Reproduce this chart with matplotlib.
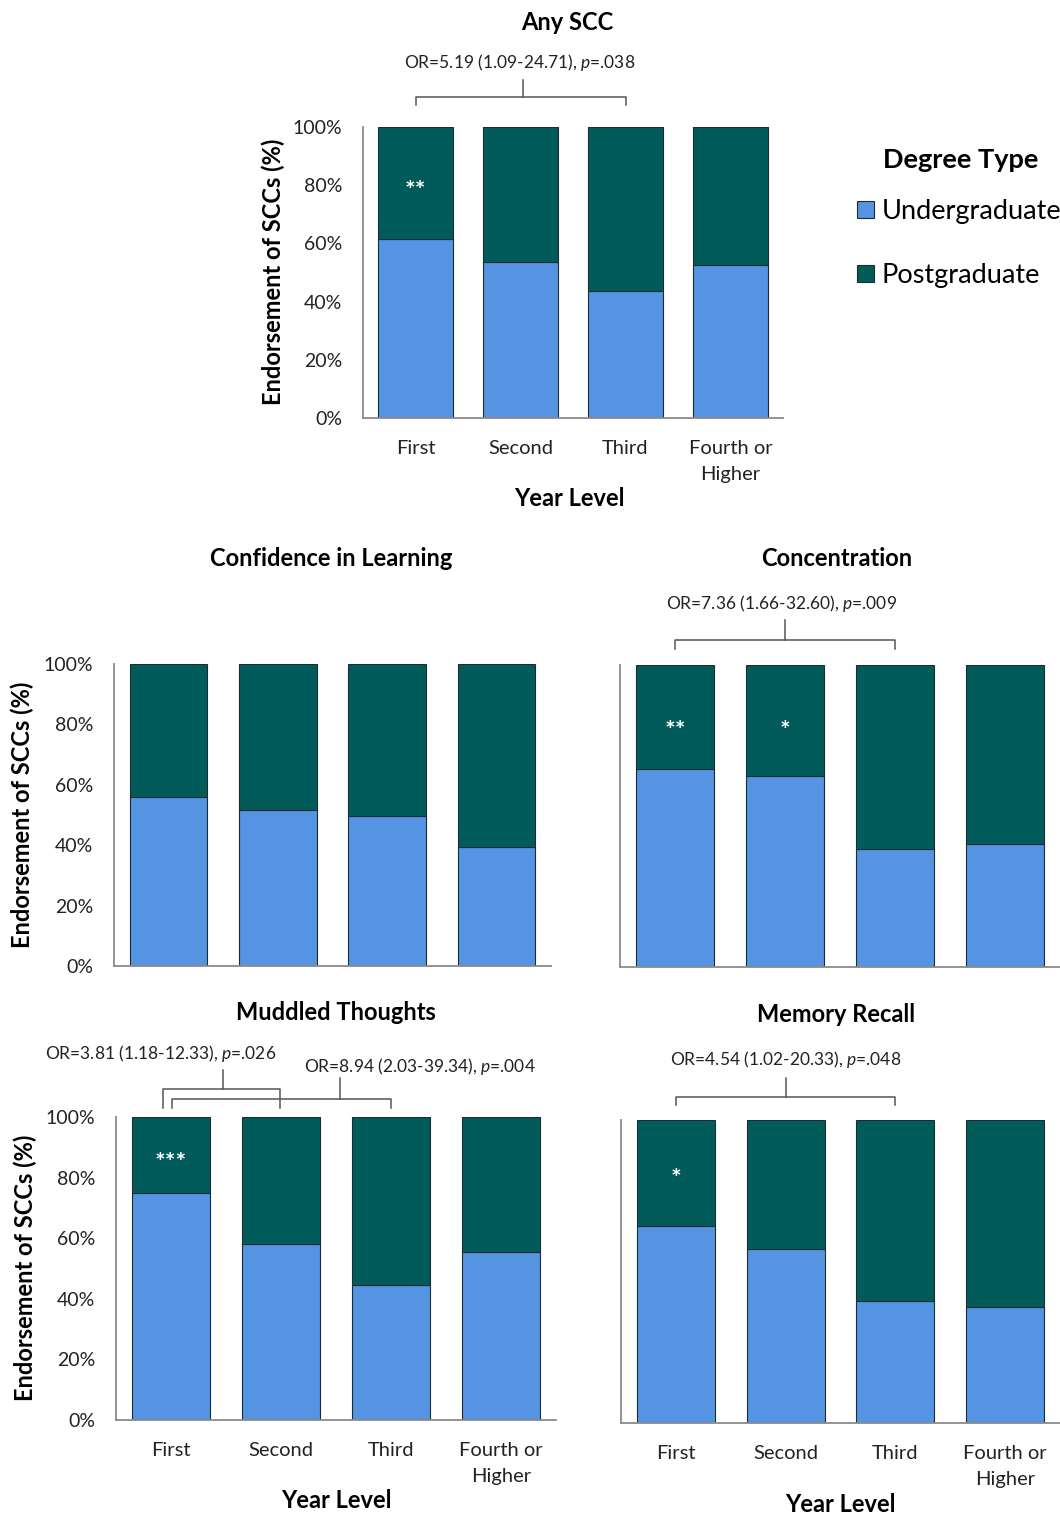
import matplotlib
matplotlib.use('Agg')
import matplotlib.pyplot as plt
from matplotlib.patches import Patch

plt.rcParams['font.family'] = ['Lato', 'DejaVu Sans']
plt.rcParams['mathtext.fontset'] = 'custom'
plt.rcParams['mathtext.rm'] = 'Lato'
plt.rcParams['mathtext.it'] = 'Lato:italic'

years = ['First', 'Second', 'Third', 'Fourth or\nHigher']
degree_types = ['Undergraduate', 'Postgraduate']

# percent of SCC endorsement by degree type, per year level
any_ug = [61.4, 53.7, 43.7, 52.6]
any_pg = [38.6, 46.3, 56.3, 47.4]
confidence_ug = [55.8, 51.5, 49.8, 39.3]
confidence_pg = [44.2, 48.5, 50.2, 60.7]
concentration_ug = [65.6, 63.2, 39.1, 40.7]
concentration_pg = [34.4, 36.8, 60.9, 59.3]
muddled_ug = [75.0, 58.1, 44.4, 55.5]
muddled_pg = [25.0, 41.9, 55.6, 44.5]
memory_ug = [65.0, 57.4, 40.1, 38.4]
memory_pg = [35.0, 42.6, 59.9, 61.6]

UG_COLOR = '#5594e2'
PG_COLOR = '#025b5b'
GREY = '#8a8a8a'

W, H = 1060, 1515
fig = plt.figure(figsize=(W / 100, H / 100), dpi=100)


def axes_at(left, top, right, bottom):
    return fig.add_axes([left / W, 1 - bottom / H, (right - left) / W, (bottom - top) / H])


def ftext(x, y, s, **kw):
    fig.text(x / W, 1 - y / H, s, **kw)


def panel(ax, ug, pg, stars=None, brackets=(), xticks=True, yticks=True):
    x = range(len(years))
    ax.bar(x, ug, width=0.71, color=UG_COLOR, edgecolor='#1e2b33', linewidth=0.8,
           label=degree_types[0])
    ax.bar(x, pg, width=0.71, bottom=ug, color=PG_COLOR, edgecolor='#1e2b33',
           linewidth=0.8, label=degree_types[1])
    ax.set_xlim(-0.5, 3.5)
    ax.set_ylim(0, 100)
    for s in ['top', 'right']:
        ax.spines[s].set_visible(False)
    for s in ['left', 'bottom']:
        ax.spines[s].set_color(GREY)
        ax.spines[s].set_linewidth(1.3)
    ax.set_xticks(list(x))
    ax.set_yticks([0, 20, 40, 60, 80, 100])
    ax.tick_params(length=0, labelsize=14, colors='#222222')
    ax.tick_params(axis='y', pad=15)
    ax.tick_params(axis='x', pad=16, labelsize=14.5)
    if xticks:
        ax.set_xticklabels(years)
        for t in ax.get_xticklabels():
            t.set_linespacing(1.65)
    else:
        ax.set_xticklabels([])
    if yticks:
        ax.set_yticklabels(['%d%%' % v for v in [0, 20, 40, 60, 80, 100]])
    else:
        ax.set_yticklabels([])
    if stars:
        for i, (mark, yv) in stars.items():
            ax.text(i, yv, mark, color='white', ha='center', va='center',
                    fontsize=18, fontweight='bold')
    for x0, x1, xs, ybar, yend, ytop, label, xt, yt in brackets:
        ax.plot([x0, x0, x1, x1], [yend, ybar, ybar, yend], color='#555555',
                lw=1.1, clip_on=False)
        ax.plot([xs, xs], [ybar, ytop], color='#555555', lw=1.1, clip_on=False)
        ax.text(xt, yt, label, ha='center', va='center', fontsize=12.5,
                color='#222222', clip_on=False)


TITLE = dict(ha='center', va='center', fontsize=17, fontweight='bold')
YLAB = dict(rotation=90, ha='center', va='center', fontsize=17, fontweight='bold')

# Any SCC
ax1 = axes_at(363, 127, 783, 418)
panel(ax1, any_ug, any_pg, stars={0: ('**', 78)},
      brackets=[(0, 2, 1.02, 110.3, 107.6, 116.2,
                 r'OR=5.19 (1.09-24.71), $\mathit{p}$=.038', 0.99, 122)])
ftext(567, 22, 'Any SCC', **TITLE)
ftext(273, 272, 'Endorsement of SCCs (%)', **YLAB)
ftext(569, 499, 'Year Level', **TITLE)

# Confidence in Learning
ax2 = axes_at(114, 664, 551, 966)
panel(ax2, confidence_ug, confidence_pg, xticks=False)
ftext(331, 558, 'Confidence in Learning', **TITLE)
ftext(22, 815, 'Endorsement of SCCs (%)', **YLAB)

# Concentration
ax3 = axes_at(620, 665, 1060, 967)
panel(ax3, concentration_ug, concentration_pg, stars={0: ('**', 78), 1: ('*', 78)},
      xticks=False, yticks=False,
      brackets=[(0, 2, 1.0, 108.3, 105.3, 114.9,
                 r'OR=7.36 (1.66-32.60), $\mathit{p}$=.009', 0.97, 120.2)])
ftext(837, 558, 'Concentration', **TITLE)

# Muddled Thoughts
ax4 = axes_at(116, 1117, 556, 1420)
panel(ax4, muddled_ug, muddled_pg, stars={0: ('***', 84.5)},
      brackets=[(-0.073, 0.99, 0.47, 109.2, 103, 115.5,
                 r'OR=3.81 (1.18-12.33), $\mathit{p}$=.026', -0.09, 121),
                (0.01, 2.0, 1.54, 106, 103, 113,
                 r'OR=8.94 (2.03-39.34), $\mathit{p}$=.004', 2.26, 116.8)])
ftext(336, 1012, 'Muddled Thoughts', **TITLE)
ftext(25, 1268, 'Endorsement of SCCs (%)', **YLAB)
ftext(336, 1501, 'Year Level', **TITLE)

# Memory Recall
ax5 = axes_at(621, 1120, 1060, 1423)
panel(ax5, memory_ug, memory_pg, stars={0: ('*', 80.5)}, yticks=False,
      brackets=[(0, 2, 1.0, 107.6, 105, 113.9,
                 r'OR=4.54 (1.02-20.33), $\mathit{p}$=.048', 1.0, 120)])
ftext(836, 1014, 'Memory Recall', **TITLE)
ftext(840, 1505, 'Year Level', **TITLE)

# legend for degree type, placed to the right of the top panel
handles = [Patch(facecolor=UG_COLOR, edgecolor='#1e2b33', linewidth=0.8),
           Patch(facecolor=PG_COLOR, edgecolor='#1e2b33', linewidth=0.8)]
fig.legend(handles, degree_types, loc='upper left', bbox_to_anchor=(846 / W, 1 - 188 / H),
           frameon=False, fontsize=19.5, labelspacing=1.45, borderaxespad=0,
           handlelength=0.62, handleheight=0.62, handletextpad=0.3)
ftext(883, 160, 'Degree Type', ha='left', va='center', fontsize=19.5, fontweight='bold')

fig.savefig('out.png', dpi=100, facecolor='white')
